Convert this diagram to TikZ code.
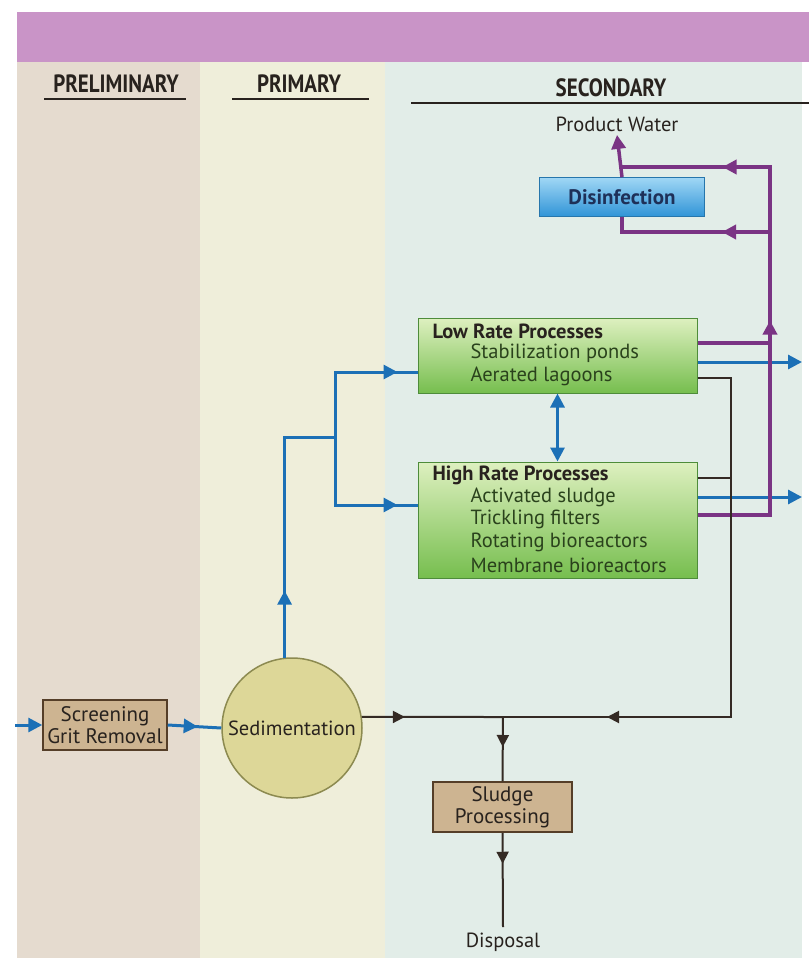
\documentclass[tikz,border=0pt]{standalone}
\usepackage{fontspec}
\usepackage{graphicx}
\setmainfont{PT Sans}
\usetikzlibrary{arrows.meta,decorations.markings}
\definecolor{bandpurple}{RGB}{201,148,199}
\definecolor{bgprelim}{RGB}{229,219,207}
\definecolor{bgprim}{RGB}{239,238,218}
\definecolor{bgsec}{RGB}{226,237,232}
\definecolor{lblue}{RGB}{28,112,182}
\definecolor{lpurp}{RGB}{122,52,132}
\definecolor{ldark}{RGB}{52,42,36}
\definecolor{boxbeige}{RGB}{205,180,145}
\definecolor{boxedge}{RGB}{85,62,40}
\definecolor{circfill}{RGB}{221,215,152}
\definecolor{circedge}{RGB}{140,138,80}
\definecolor{gtop}{RGB}{222,240,192}
\definecolor{gbot}{RGB}{118,190,78}
\definecolor{gedge}{RGB}{78,140,58}
\definecolor{dtop}{RGB}{160,215,245}
\definecolor{dbot}{RGB}{48,148,215}
\definecolor{dtext}{RGB}{30,48,88}
\definecolor{txt}{RGB}{40,34,30}
\definecolor{gtxt}{RGB}{42,66,28}
\tikzset{
  arr at/.style={postaction={decorate,decoration={markings,mark=at position #1 with {\arrow{Triangle[length=14pt,width=14pt]}}}}},
  darr at/.style={postaction={decorate,decoration={markings,mark=at position #1 with {\arrow{Triangle[length=12pt,width=12pt]}}}}},
  flowblue/.style={draw=lblue,line width=3pt},
  flowpurp/.style={draw=lpurp,line width=3.5pt},
  flowdark/.style={draw=ldark,line width=2pt},
  tip/.style={-{Triangle[length=14pt,width=14pt]}},
  beigebox/.style={draw=boxedge,line width=1.5pt,fill=boxbeige,align=center,text=txt,font=\fontsize{21}{22.5}\selectfont,inner sep=0pt},
  greenbox/.style={draw=gedge,line width=1pt,top color=gtop,bottom color=gbot,inner sep=0pt},
  hdr/.style={font=\fontsize{25}{27}\selectfont\bfseries,text=txt},
  lbl/.style={font=\fontsize{20.5}{22}\selectfont,text=txt},
  ghead/.style={anchor=west,font=\fontsize{20.5}{22}\selectfont\bfseries,text=txt},
  gitem/.style={anchor=west,font=\fontsize{20.5}{22}\selectfont,text=gtxt},
}
\begin{document}
\begin{tikzpicture}[x=1pt,y=-1pt]
\useasboundingbox (0,0) rectangle (809,961);
% backgrounds
\fill[white] (0,0) rectangle (809,961);
\fill[bgprelim] (17,62) rectangle (200,958);
\fill[bgprim] (200,62) rectangle (385,958);
\fill[bgsec] (385,62) rectangle (802,958);
\fill[bandpurple] (17,12) rectangle (809,62);
% headers
\node[hdr] (hprelim) at (116,84) {\scalebox{0.84}[1]{PRELIMINARY}};
\node[hdr] (hprim) at (299,84) {\scalebox{0.84}[1]{PRIMARY}};
\node[hdr] (hsec) at (611,88) {\scalebox{0.84}[1]{SECONDARY}};
\draw[txt,line width=2pt] (44,99) -- (186,99);
\draw[txt,line width=2pt] (232,99) -- (369,99);
\draw[txt,line width=2pt] (411,103) -- (809,103);
% nodes
\node[beigebox,minimum width=124pt,minimum height=50pt] (screen) at (105,725) {Screening\\Grit Removal};
\node[circle,draw=circedge,line width=1.5pt,fill=circfill,minimum size=140pt,inner sep=0pt,text=txt,font=\fontsize{20.5}{22}\selectfont] (sed) at (292,728) {Sedimentation};
\node[draw=dbot!80!black,line width=0.5pt,top color=dtop,bottom color=dbot,minimum width=165pt,minimum height=39pt,inner sep=0pt,text=dtext,font=\fontsize{21}{22}\selectfont\bfseries] (dis) at (622,197) {Disinfection};
\node[lbl] (pw) at (617,124) {Product Water};
\node[greenbox,minimum width=279pt,minimum height=75pt] (low) at (557.5,355.5) {};
\node[greenbox,minimum width=279pt,minimum height=116pt] (high) at (557.5,520) {};
\node[ghead] (lowt) at (429,331) {Low Rate Processes};
\node[gitem] (low1) at (467,353) {Stabilization ponds};
\node[gitem] (low2) at (467,376) {Aerated lagoons};
\node[ghead] (hight) at (429,475) {High Rate Processes};
\node[gitem] (high1) at (467,497) {Activated sludge};
\node[gitem] (high2) at (467,519) {Trickling filters};
\node[gitem] (high3) at (467,542) {Rotating bioreactors};
\node[gitem] (high4) at (467,565) {Membrane bioreactors};
\node[beigebox,minimum width=139pt,minimum height=50pt] (sludge) at (502.5,807) {Sludge\\Processing};
\node[lbl] (disp) at (503,942) {Disposal};
% coordinates
\coordinate (inL) at (15,725);
\coordinate (j1) at (335,437);
\coordinate (ylowin) at (0,372);
\coordinate (yhighin) at (0,505);
\coordinate (pv) at (770,167);
\coordinate (yplow) at (0,343);
\coordinate (yphigh) at (0,515);
\coordinate (ypdis) at (0,232);
\coordinate (bout1) at (802,362);
\coordinate (bout2) at (802,497);
\coordinate (ydlow) at (0,378);
\coordinate (ydhigh) at (0,478);
\coordinate (dv) at (731,717);
\coordinate (jd) at (503,717);
\coordinate (dend) at (503,927);
% blue flows
\draw[flowblue,tip] (inL) -- (screen.west);
\draw[flowblue,arr at=30pt] (screen.east) -- (sed.west);
\draw[flowblue,arr at=67pt] (sed.96) |- (j1);
\draw[flowblue,arr at=-20pt] (j1) |- (low.west |- ylowin);
\draw[flowblue,arr at=-20pt] (j1) |- (high.west |- yhighin);
\draw[flowblue,{Triangle[length=14pt,width=14pt]}-{Triangle[length=14pt,width=14pt]}] (low.south) -- (high.north);
\draw[flowblue,tip] (low.east |- bout1) -- (bout1);
\draw[flowblue,tip] (high.east |- bout2) -- (bout2);
% purple flows
\draw[flowpurp,arr at=267pt,arr at=468pt] (high.east |- yphigh) -| (pv) -- (dis.north |- pv);
\draw[flowpurp] (low.east |- yplow) -- (pv |- yplow);
\draw[flowpurp,arr at=48pt] (pv |- ypdis) -- (dis.south |- ypdis) -- (dis.south);
\draw[flowpurp,tip] (dis.north) -- (pw.south);
% dark flows
\draw[flowdark,darr at=-104pt] (low.east |- ydlow) -| (dv) -- (jd);
\draw[flowdark] (high.east |- ydhigh) -- (dv |- ydhigh);
\draw[flowdark,darr at=43pt] (sed.9) -- (jd);
\draw[flowdark,darr at=30pt] (jd) -- (sludge.north);
\draw[flowdark,darr at=31pt] (sludge.south) -- (dend);
\end{tikzpicture}
\end{document}
